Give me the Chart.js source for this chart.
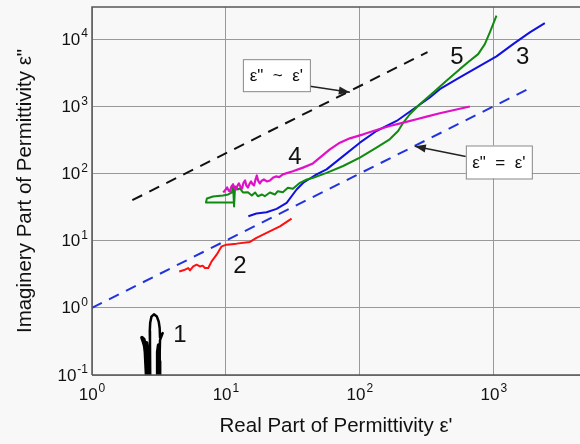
<!DOCTYPE html>
<html>
<head>
<meta charset="utf-8">
<script src="https://cdn.jsdelivr.net/npm/chart.js@4.4.0/dist/chart.umd.min.js"></script>
<style>
  html, body { margin: 0; padding: 0; background: #f8f8f8; }
  #wrap { width: 580px; height: 444px; }
</style>
</head>
<body>
<div id="wrap"><canvas id="chart" width="580" height="444"></canvas></div>
<script>
// decade ticks only, labels drawn as 10 + raised exponent
const xTicks = [1, 10, 100, 1000];
const xTickExp = ['0', '1', '2', '3'];
const yTicks = [0.1, 1, 10, 100, 1000, 10000];
const yTickExp = ['-1', '0', '1', '2', '3', '4'];

// curve 1 - black loop
const c1Real = [3.16, 3.2, 3.22, 3.37, 3.22, 3.2, 3.15, 3.05, 2.9, 2.78, 2.72, 2.7, 2.71, 2.72];
const c1Imag = [0.1, 0.2, 0.33, 0.42, 0.36, 0.5, 0.62, 0.74, 0.8, 0.74, 0.6, 0.45, 0.3, 0.1];
// curve 1 - heavy left foot
const c1bReal = [2.64, 2.6, 2.55, 2.5, 2.47, 2.42, 2.36, 2.44, 2.5, 2.56, 2.62, 2.66, 2.66];
const c1bImag = [0.1, 0.2, 0.1, 0.22, 0.27, 0.31, 0.36, 0.34, 0.27, 0.3, 0.24, 0.18, 0.1];
// curve 1 - heavy right foot
const c1cReal = [3.1, 3.09, 3.14, 3.18, 3.2];
const c1cImag = [0.1, 0.22, 0.28, 0.16, 0.1];

// curve 2 - red
const c2Real = [4.48, 4.94, 5.23, 5.39, 5.7, 6.04, 6.39, 6.7, 6.97, 7.38, 7.82, 8.52, 9.29, 10.1, 12.0, 15.1, 16.9, 20.1, 25.3, 30.9];
const c2Imag = [3.48, 3.69, 3.91, 3.6, 4.13, 4.38, 4.13, 4.24, 3.91, 3.91, 4.91, 6.18, 8.22, 8.71, 9.02, 9.56, 11.0, 13.0, 16.3, 21.3];

// curve 3 - blue
const c3Real = [14.7, 16.9, 20.1, 23.9, 28.4, 33.7, 37.8, 47.5, 56.4, 75, 100, 133, 188, 250, 333, 395, 557, 787, 1047, 1393, 1857, 2403];
const c3Imag = [23.1, 25.3, 26.4, 29.7, 36.5, 57.7, 72.6, 96.7, 115, 181, 287, 428, 604, 902, 1349, 1795, 2680, 3990, 5520, 8420, 12600, 17300];

// curve 4 - magenta
const c4Real = [9.55, 10.0, 10.2, 10.5, 10.7, 11.0, 11.3, 11.6, 11.9, 12.2, 12.5, 12.9, 13.2, 13.5, 13.9, 14.2, 14.6, 15.0, 15.4, 15.8, 16.2, 16.6, 17.0, 17.4, 17.9, 18.5, 19.2, 20.2, 21.3, 22.4, 23.6, 25.0, 26.6, 31.6, 37.6, 44.6, 50.3, 59.7, 70.9, 84.2, 106, 133, 167, 211, 265, 315, 395, 662];
const c4Imag = [52.1, 58.0, 61.8, 55.0, 53.9, 64.0, 68.5, 60.0, 57.7, 66.0, 70.9, 62.0, 59.7, 72.0, 78.6, 66.0, 61.8, 70.0, 76.0, 69.0, 66.2, 80.0, 93.3, 78.0, 70.9, 78.0, 81.3, 76.0, 78.6, 86.0, 90.2, 88.0, 96.7, 108, 122, 141, 172, 228, 287, 333, 382, 443, 508, 571, 640, 702, 787, 990];

// curve 5 - green
const c5Real = [11.5, 7.09, 7.21, 8.0, 9.5, 10.4, 11.1, 11.3, 11.5, 11.7, 12.3, 12.7, 13.4, 14.6, 15.6, 16.5, 17.3, 18.6, 19.5, 21.3, 23.2, 24.4, 26.6, 29.0, 31.6, 35.7, 40.2, 44.8, 56.4, 75, 100, 133, 167, 193, 211, 236, 280, 353, 443, 557, 662, 764, 857, 934, 1000, 1047];
const c5Imag = [36.9, 36.9, 42.4, 45.4, 47.0, 48.6, 52.1, 68.5, 32.2, 63.9, 57.7, 59.7, 52.1, 52.6, 47.0, 52.1, 45.8, 48.6, 45.8, 52.1, 48.6, 54.4, 52.6, 61.2, 59.1, 72.6, 81.3, 86.3, 102, 129, 172, 242, 322, 428, 571, 760, 1072, 1600, 2387, 3566, 4740, 5970, 8420, 12600, 17700, 22300];

// reference lines
const propReal = [2, 320];
const propImag = [40, 6400];
const equalReal = [1, 1800];
const equalImag = [1, 1800];

const pts = (xs, ys) => xs.map((v, i) => ({ x: v, y: ys[i] }));

const line = (data, color, width, dash) => ({
    data: data,
    showLine: true,
    borderColor: color,
    borderWidth: width,
    borderDash: dash || [],
    borderJoinStyle: 'round',
    pointRadius: 0,
    fill: false,
    tension: 0
});

// labels and boxed notes, placed in data coordinates
const curveLabels = [
    { text: '1', x: 4.54, y: 0.395 },
    { text: '2', x: 12.7, y: 4.09 },
    { text: '3', x: 1645, y: 5390 },
    { text: '4', x: 32.7, y: 173 },
    { text: '5', x: 530, y: 5390 }
];
const notes = [
    { text: 'ε"  ~  ε\'', x: 23.8, y: 2900, w: 67, h: 32, from: [42.4, 1990], to: [84.2, 1618] },
    { text: 'ε"  =  ε\'', x: 1090, y: 148, w: 66, h: 33, from: [618, 179], to: [257, 253] }
];

const FONT = '"Liberation Sans", Arial, sans-serif';

const decadeLabels = {
    id: 'decadeLabels',
    afterDraw(chart) {
        const { ctx } = chart;
        const sx = chart.scales.x, sy = chart.scales.y;
        const bottom = chart.chartArea.bottom;
        ctx.save();
        ctx.fillStyle = '#111';
        ctx.textBaseline = 'middle';
        ctx.textAlign = 'left';

        yTicks.forEach((v, i) => {
            const py = sy.getPixelForValue(v);
            ctx.font = '12px ' + FONT;
            const we = ctx.measureText(yTickExp[i]).width;
            ctx.fillText(yTickExp[i], 88 - we, py - 5);
            ctx.font = '17px ' + FONT;
            const wb = ctx.measureText('10').width;
            ctx.fillText('10', 88 - we - 1 - wb, py + 1);
        });

        xTicks.forEach((v, i) => {
            const px = sx.getPixelForValue(v);
            ctx.font = '12px ' + FONT;
            const we = ctx.measureText(xTickExp[i]).width;
            ctx.font = '17px ' + FONT;
            const wb = ctx.measureText('10').width;
            const x0 = px - (wb + 1 + we) / 2;
            ctx.fillText('10', x0, bottom + 20);
            ctx.font = '12px ' + FONT;
            ctx.fillText(xTickExp[i], x0 + wb + 1, bottom + 14);
        });
        ctx.restore();
    }
};

const annotate = {
    id: 'annotate',
    afterDraw(chart) {
        const { ctx, chartArea: a } = chart;
        const sx = chart.scales.x, sy = chart.scales.y;
        ctx.save();

        // frame
        ctx.strokeStyle = '#555';
        ctx.lineWidth = 1.5;
        ctx.beginPath();
        ctx.moveTo(a.left, a.bottom);
        ctx.lineTo(a.left, a.top);
        ctx.lineTo(a.right, a.top);
        ctx.stroke();
        ctx.beginPath();
        ctx.moveTo(a.left, a.bottom);
        ctx.lineTo(a.right, a.bottom);
        ctx.stroke();

        ctx.fillStyle = '#111';
        ctx.font = '24px ' + FONT;
        ctx.textAlign = 'center';
        ctx.textBaseline = 'middle';
        curveLabels.forEach(l => {
            ctx.fillText(l.text, sx.getPixelForValue(l.x), sy.getPixelForValue(l.y));
        });

        notes.forEach(n => {
            const x0 = sx.getPixelForValue(n.from[0]), y0 = sy.getPixelForValue(n.from[1]);
            const x1 = sx.getPixelForValue(n.to[0]), y1 = sy.getPixelForValue(n.to[1]);
            ctx.strokeStyle = '#222';
            ctx.lineWidth = 1.5;
            ctx.beginPath();
            ctx.moveTo(x0, y0);
            ctx.lineTo(x1, y1);
            ctx.stroke();
            const ang = Math.atan2(y1 - y0, x1 - x0);
            ctx.fillStyle = '#222';
            ctx.beginPath();
            ctx.moveTo(x1, y1);
            ctx.lineTo(x1 - 11 * Math.cos(ang) + 4 * Math.sin(ang), y1 - 11 * Math.sin(ang) - 4 * Math.cos(ang));
            ctx.lineTo(x1 - 11 * Math.cos(ang) - 4 * Math.sin(ang), y1 - 11 * Math.sin(ang) + 4 * Math.cos(ang));
            ctx.closePath();
            ctx.fill();

            const cx = sx.getPixelForValue(n.x), cy = sy.getPixelForValue(n.y);
            ctx.fillStyle = '#fff';
            ctx.fillRect(cx - n.w / 2, cy - n.h / 2, n.w, n.h);
            ctx.strokeStyle = '#888';
            ctx.lineWidth = 1;
            ctx.strokeRect(cx - n.w / 2 + 0.5, cy - n.h / 2 + 0.5, n.w, n.h);
            ctx.fillStyle = '#111';
            ctx.font = '17px ' + FONT;
            ctx.fillText(n.text, cx, cy + 1);
        });
        ctx.restore();
    }
};

const titleFont = { family: FONT, size: 20.5 };

new Chart(document.getElementById('chart'), {
    type: 'scatter',
    data: {
        datasets: [
            line(pts(propReal, propImag), '#111', 2, [11, 8]),
            line(pts(equalReal, equalImag), '#2233dd', 2, [11, 8]),
            line(pts(c1Real, c1Imag), '#000', 2.5),
            line(pts(c1bReal, c1bImag), '#000', 3.5),
            line(pts(c1cReal, c1cImag), '#000', 3.5),
            line(pts(c2Real, c2Imag), '#ff1010', 2),
            line(pts(c4Real, c4Imag), '#e010c8', 2.2),
            line(pts(c5Real, c5Imag), '#108a10', 2),
            line(pts(c3Real, c3Imag), '#1010e0', 2)
        ]
    },
    options: {
        responsive: false,
        animation: false,
        devicePixelRatio: 1,
        layout: { padding: { top: 7, left: 0, right: 0, bottom: 0 } },
        plugins: { legend: { display: false }, tooltip: { enabled: false } },
        scales: {
            x: {
                type: 'logarithmic',
                min: 1,
                max: 4400,
                afterBuildTicks: s => { s.ticks = xTicks.map(v => ({ value: v })); },
                afterFit: s => { s.height = 69; s.paddingLeft = 0; s.paddingRight = 0; },
                grid: { color: '#999', lineWidth: 1, drawTicks: false },
                border: { display: false },
                ticks: { display: false, autoSkip: false },
                title: {
                    display: true,
                    text: "Real Part of Permittivity ε'",
                    color: '#111',
                    font: titleFont,
                    padding: { top: 0, bottom: 5 }
                }
            },
            y: {
                type: 'logarithmic',
                min: 0.1,
                max: 30000,
                afterBuildTicks: s => { s.ticks = yTicks.map(v => ({ value: v })); },
                afterFit: s => { s.width = 92; s.paddingTop = 0; s.paddingBottom = 0; },
                grid: { color: '#999', lineWidth: 1, drawTicks: false },
                border: { display: false },
                ticks: { display: false, autoSkip: false },
                title: {
                    display: true,
                    text: 'Imaginery Part of Permittivity ε"',
                    color: '#111',
                    font: titleFont,
                    padding: { top: 13.5, bottom: 0 }
                }
            }
        }
    },
    plugins: [annotate, decadeLabels]
});
</script>
</body>
</html>
